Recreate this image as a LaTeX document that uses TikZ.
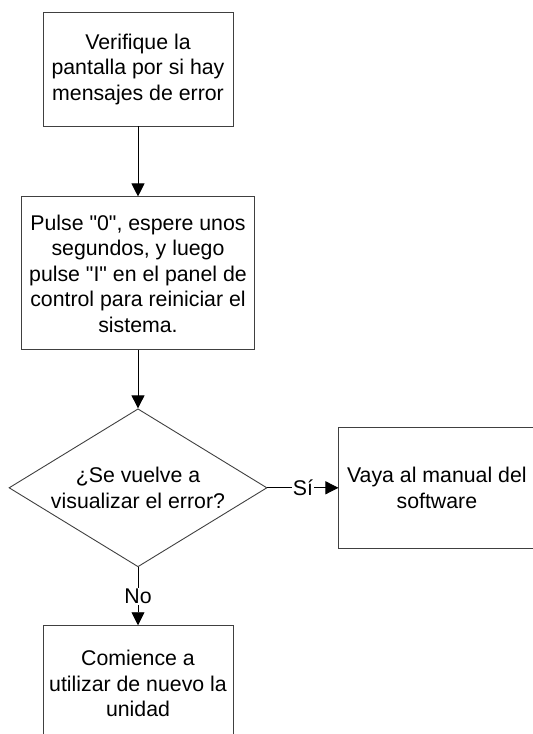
\documentclass[tikz,border=0pt]{standalone}
\usepackage{fontspec}
\setmainfont{Liberation Sans}
\usepackage{xcolor}
\usetikzlibrary{shapes.geometric, arrows.meta, positioning}
\definecolor{edgegray}{RGB}{64,64,64}

\begin{document}
\begin{tikzpicture}[
    x=1pt, y=1pt,
    node distance=58pt,
    block/.style={rectangle, draw=edgegray, line width=0.9pt, align=center, inner sep=0pt, minimum width=#1, font=\fontsize{21.3}{25.5}\selectfont},
    block/.default=190pt,
    decision/.style={diamond, draw=edgegray, line width=0.9pt, align=center, inner sep=0pt, aspect=1.63, minimum width=258pt, minimum height=158pt, font=\fontsize{21.3}{25.5}\selectfont},
    lbl/.style={fill=white, inner sep=1pt, font=\fontsize{21.3}{25.5}\selectfont},
    arrow/.style={-{Triangle[length=13pt, width=13pt]}, line width=0.9pt}
]
\useasboundingbox (0,0) rectangle (533,-734);
\clip (0,0) rectangle (533,-734);

% Steps
\node[block, minimum height=114pt] (check) at (138,-69) {Verifique la\\pantalla por si hay\\mensajes de error};
\node[block=233pt, minimum height=153pt, below=70pt of check] (restart) {Pulse \textquotedbl0\textquotedbl, espere unos\\segundos, y luego\\pulse \textquotedbl I\textquotedbl\ en el panel de\\control para reiniciar el\\sistema.};

% Decision
\node[decision, below=of restart] (again) {¿Se vuelve a\\visualizar el error?};

% Outcomes
\node[block=240pt, minimum height=121pt, right=71pt of again] (manual) {\hspace*{-44pt}Vaya al manual del\\\hspace*{-44pt}software};
\node[block, minimum height=116pt, below=of again] (resume) {Comience a\\utilizar de nuevo la\\unidad};

% Arrows
\draw[arrow] (check) -- (restart);
\draw[arrow] (restart) -- (again);
\draw[arrow] (again) -- node[lbl] {Sí} (manual);
\draw[arrow] (again) -- node[lbl] {No} (resume);

\end{tikzpicture}
\end{document}
